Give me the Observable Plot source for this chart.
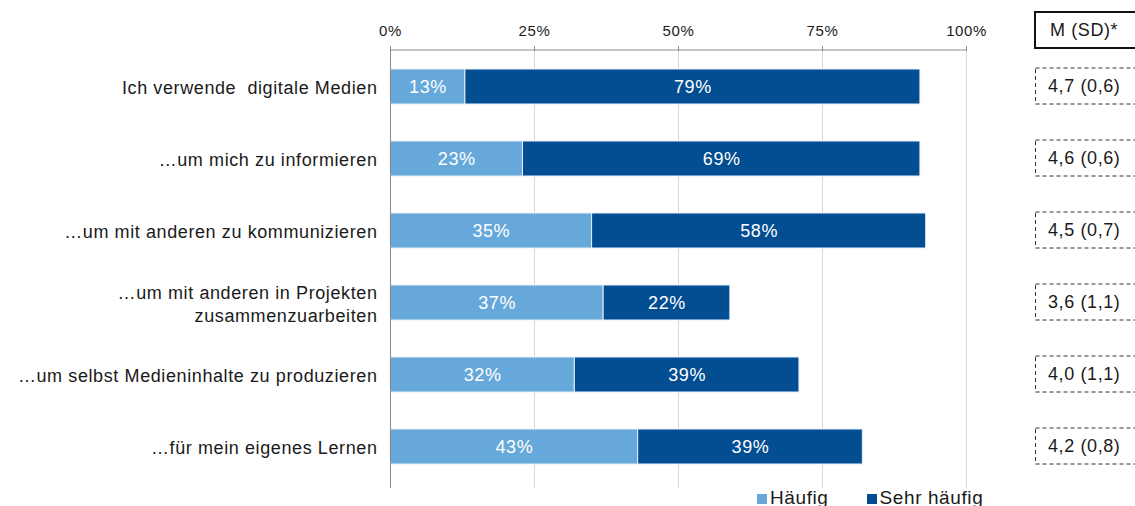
<!DOCTYPE html>
<html>
<head>
<meta charset="utf-8">
<script src="https://cdn.jsdelivr.net/npm/d3@7"></script>
<script src="https://cdn.jsdelivr.net/npm/@observablehq/plot@0.6"></script>
<style>
  html, body { margin: 0; padding: 0; background: #fff; overflow: hidden; }
  #wrap { position: relative; width: 1135px; height: 506px; font-family: "Liberation Sans", Arial, sans-serif; }
  #chart svg text { letter-spacing: 0.6px; }
  #legend { position: absolute; left: 757px; top: 488px; font-size: 19px; letter-spacing: 0.6px; color: #1a1a1a; white-space: nowrap; line-height: 20px; }
  #legend span.sw { display: inline-block; width: 10px; height: 10px; margin-right: 3px; vertical-align: 0px; }
  #legend span.item { margin-right: 38px; }
</style>
</head>
<body>
<div id="wrap">
  <div id="chart"></div>
  <div id="legend"></div>
</div>
<script>
const categories = [
  "Ich verwende  digitale Medien",
  "…um mich zu informieren",
  "…um mit anderen zu kommunizieren",
  "…um mit anderen in Projekten\nzusammenzuarbeiten",
  "…um selbst Medieninhalte zu produzieren",
  "…für mein eigenes Lernen"
];
const series = ["Häufig", "Sehr häufig"];
const haeufig = [13, 23, 35, 37, 32, 43];
const sehrHaeufig = [79, 69, 58, 22, 39, 39];
const meanSD = ["4,7 (0,6)", "4,6 (0,6)", "4,5 (0,7)", "3,6 (1,1)", "4,0 (1,1)", "4,2 (0,8)"];
const xTicks = [0, 0.25, 0.5, 0.75, 1];
const colors = ["#66A8DA", "#034D92"];

const data = [];
categories.forEach((c, i) => {
  data.push({cat: c, series: series[0], value: haeufig[i] / 100});
  data.push({cat: c, series: series[1], value: sehrHaeufig[i] / 100});
});

const plot = Plot.plot({
  width: 1135,
  height: 506,
  marginLeft: 390,
  marginRight: 169,
  marginTop: 50,
  marginBottom: 18,
  style: {fontFamily: "'Liberation Sans', Arial, sans-serif", background: "#fff", color: "#1a1a1a"},
  x: {domain: [0, 1], axis: null},
  y: {domain: categories, paddingInner: 0.51, paddingOuter: 0.256, align: 0.45, axis: null},
  color: {domain: series, range: colors},
  marks: [
    Plot.gridX(xTicks, {stroke: "#d9d9d9", strokeOpacity: 1}),
    Plot.axisX(xTicks, {anchor: "top", tickSize: 5, tickPadding: 10, tickFormat: d => Math.round(d * 100) + "%", fontSize: 15, stroke: "#888", fill: "#1a1a1a", label: null}),
    Plot.barX(data, Plot.stackX({x: "value", y: "cat", fill: "series", order: null, stroke: "#e8f1fa", strokeWidth: 1})),
    Plot.text(data, Plot.stackX({x: "value", y: "cat", z: "series", order: null, text: d => Math.round(d.value * 100) + "%", fill: "white", fontSize: 18})),
    Plot.ruleX([0], {stroke: "#8a8a8a"}),
    Plot.axisY(categories, {anchor: "left", tickSize: 0, tickPadding: 13, fontSize: 18, fill: "#1a1a1a", label: null, lineHeight: 1.28})
  ]
});
document.getElementById("chart").append(plot);

// top axis line and right-side M (SD) boxes, positioned with the plot's scales
const svg = d3.select(plot);
const xs = plot.scale("x");
const ys = plot.scale("y");
svg.append("line")
  .attr("x1", xs.apply(0)).attr("x2", xs.apply(1))
  .attr("y1", 50).attr("y2", 50)
  .attr("stroke", "#888");

const hdr = svg.append("g").attr("text-anchor", "start");
hdr.append("rect").attr("x", 1035).attr("y", 12).attr("width", 110).attr("height", 36)
  .attr("fill", "none").attr("stroke", "#111").attr("stroke-width", 2);
hdr.append("text").attr("x", 1050).attr("y", 30).attr("dy", "0.35em")
  .attr("font-size", 18).attr("fill", "#1a1a1a").text("M (SD)*");

const bw = ys.bandwidth;
categories.forEach((c, i) => {
  const yc = ys.apply(c) + bw / 2;
  const g = svg.append("g").attr("text-anchor", "start");
  g.append("rect").attr("x", 1035.5).attr("y", yc - 18.5).attr("width", 110).attr("height", 36)
    .attr("fill", "none").attr("stroke", "#333").attr("stroke-width", 1).attr("stroke-dasharray", "4,3");
  g.append("text").attr("x", 1048).attr("y", yc - 0.5).attr("dy", "0.35em")
    .attr("font-size", 18).attr("fill", "#1a1a1a").text(meanSD[i]);
});

const legend = document.getElementById("legend");
series.forEach((s, i) => {
  const item = document.createElement("span");
  item.className = "item";
  const sw = document.createElement("span");
  sw.className = "sw";
  sw.style.background = colors[i];
  item.append(sw, document.createTextNode(s));
  legend.append(item);
});
</script>
</body>
</html>
